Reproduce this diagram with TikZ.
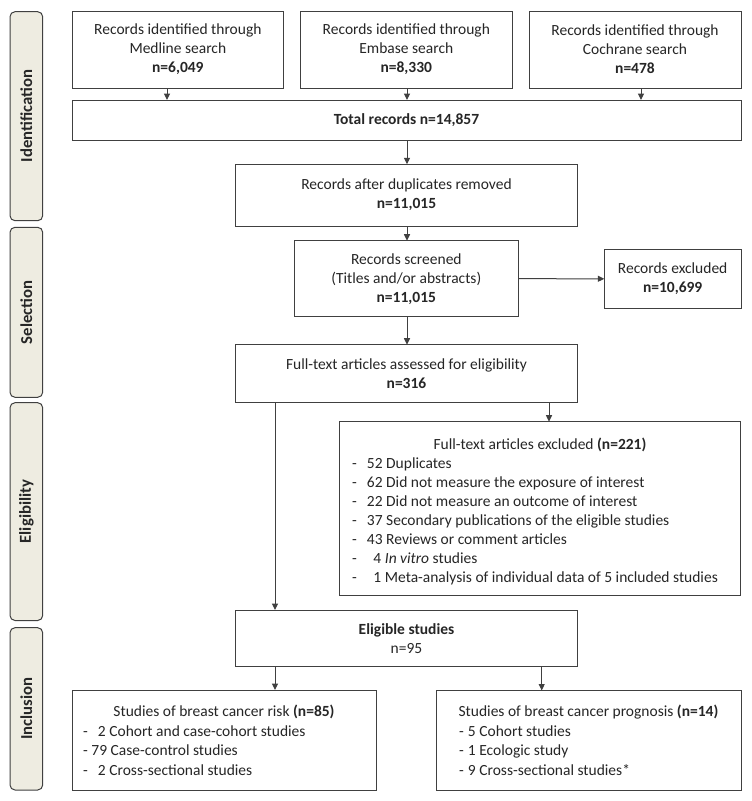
\documentclass[tikz,border=0pt]{standalone}
\usepackage{fontspec}
\setmainfont{Carlito}
\usetikzlibrary{arrows.meta}
\definecolor{ln}{HTML}{404040}
\definecolor{txt}{HTML}{262626}
\definecolor{phasefill}{HTML}{EEECE1}
\begin{document}
\begin{tikzpicture}[x=1pt,y=-1pt,
  every node/.style={inner sep=0pt, outer sep=0pt, text=txt, font=\fontsize{15.5}{19}\selectfont},
  box/.style={draw=ln, line width=1pt, fill=white, align=center},
  phase/.style={draw=ln, line width=1pt, fill=phasefill, rounded corners=5pt, rotate=90,
    minimum height=32.7pt, font=\fontsize{16.7}{19}\selectfont\bfseries},
  arr/.style={draw=ln, line width=1pt, -{Triangle[length=6.5pt,width=6pt]}}]
\useasboundingbox[fill=white] (0,0) rectangle (752,801);

% phase labels
\node[phase, minimum width=209pt] (pid) at (26.35,116.2) {Identification};
\node[phase, minimum width=170pt] (psel) at (26.35,312.3) {Selection};
\node[phase, minimum width=217.8pt] (pelig) at (26.35,511.6) {Eligibility};
\node[phase, minimum width=162.3pt] (pinc) at (26.35,708.85) {Inclusion};

% boxes
\node[box, minimum width=211.7pt, minimum height=77.3pt] (medline) at (177.85,49.65)
  {Records identified through\\Medline search\\\textbf{n=6,049}};
\node[box, minimum width=212pt, minimum height=77.3pt] (embase) at (406.3,49.65)
  {Records identified through\\Embase search\\\textbf{n=8,330}};
\node[box, minimum width=212pt, minimum height=77.3pt] (cochrane) at (635,49.65)
  {Records identified through\\Cochrane search\\\textbf{n=478}};
\node[box, minimum width=669pt, minimum height=40.3pt] (total) at (406.5,120.15)
  {\textbf{Total records n=14,857}};
\node[box, minimum width=342pt, minimum height=61.7pt] (dup) at (406.5,195.15)
  {Records after duplicates removed\\\textbf{n=11,015}};
\node[box, minimum width=224pt, minimum height=76pt] (screen) at (406.3,278.7)
  {Records screened\\(Titles and/or abstracts)\\\textbf{n=11,015}};
\node[box, minimum width=136.7pt, minimum height=59pt] (rexcl) at (672.65,278.8)
  {Records excluded\\\textbf{n=10,699}};
\node[box, minimum width=342pt, minimum height=58pt] (ft) at (406.5,373.7)
  {Full-text articles assessed for eligibility\\\textbf{n=316}};
\node[box, minimum width=401.4pt, minimum height=174pt] (excl) at (540,508.7) {};
\node[anchor=base] (exclh) at (540,449) {Full-text articles excluded \textbf{(n=221)}};
\node[anchor=base west] (excll) at (352,468) {\begin{tabular}[t]{@{}l@{}}
  \makebox[15pt][l]{-}52 Duplicates\\
  \makebox[15pt][l]{-}62 Did not measure the exposure of interest\\
  \makebox[15pt][l]{-}22 Did not measure an outcome of interest\\
  \makebox[15pt][l]{-}37 Secondary publications of the eligible studies\\
  \makebox[15pt][l]{-}43 Reviews or comment articles\\
  \makebox[21.5pt][l]{-}4 \textit{In vitro} studies\\
  \makebox[21.5pt][l]{-}1 Meta-analysis of individual data of 5 included studies
\end{tabular}};
\node[box, minimum width=342pt, minimum height=56.7pt] (elig) at (406.5,638.35)
  {\textbf{Eligible studies}\\n=95};
\node[box, minimum width=304pt, minimum height=100pt] (risk) at (224,740) {};
\node[anchor=base] (riskh) at (224,716.7) {Studies of breast cancer risk \textbf{(n=85)}};
\node[anchor=base west] (riskl) at (83,736.7) {\fontsize{15.5}{19.2}\selectfont\begin{tabular}[t]{@{}l@{}}
  \makebox[15pt][l]{-}2 Cohort and case-cohort studies\\
  \makebox[8.5pt][l]{-}79 Case-control studies\\
  \makebox[15pt][l]{-}2 Cross-sectional studies
\end{tabular}};
\node[box, minimum width=304.3pt, minimum height=99.5pt] (prog) at (588.85,740.25) {};
\node[anchor=base] (progh) at (588.5,716.7) {Studies of breast cancer prognosis \textbf{(n=14)}};
\node[anchor=base west] (progl) at (459,736.7) {\fontsize{15.5}{19.2}\selectfont\begin{tabular}[t]{@{}l@{}}
  \makebox[9pt][l]{-}5 Cohort studies\\
  \makebox[9pt][l]{-}1 Ecologic study\\
  \makebox[9pt][l]{-}9 Cross-sectional studies*
\end{tabular}};

% connectors
\draw[arr] (medline.south -| 167,0) -- (total.north -| 167,0);
\draw[arr] (embase.south -| 407,0) -- (total.north -| 407,0);
\draw[arr] (cochrane.south -| 641,0) -- (total.north -| 641,0);
\draw[arr] (total.south -| 407,0) -- (dup.north -| 407,0);
\draw[arr] (dup.south -| 407,0) -- (screen.north -| 407,0);
\draw[arr] (screen.east) -- (rexcl.west);
\draw[arr] (screen.south -| 407,0) -- (ft.north -| 407,0);
\draw[arr] (ft.south -| 549,0) -- (excl.north -| 549,0);
\draw[arr] (ft.south -| 275,0) -- (elig.north -| 275,0);
\draw[arr] (elig.south -| 275,0) -- (risk.north -| 275,0);
\draw[arr] (elig.south -| 541.7,0) -- (prog.north -| 541.7,0);
\end{tikzpicture}
\end{document}
